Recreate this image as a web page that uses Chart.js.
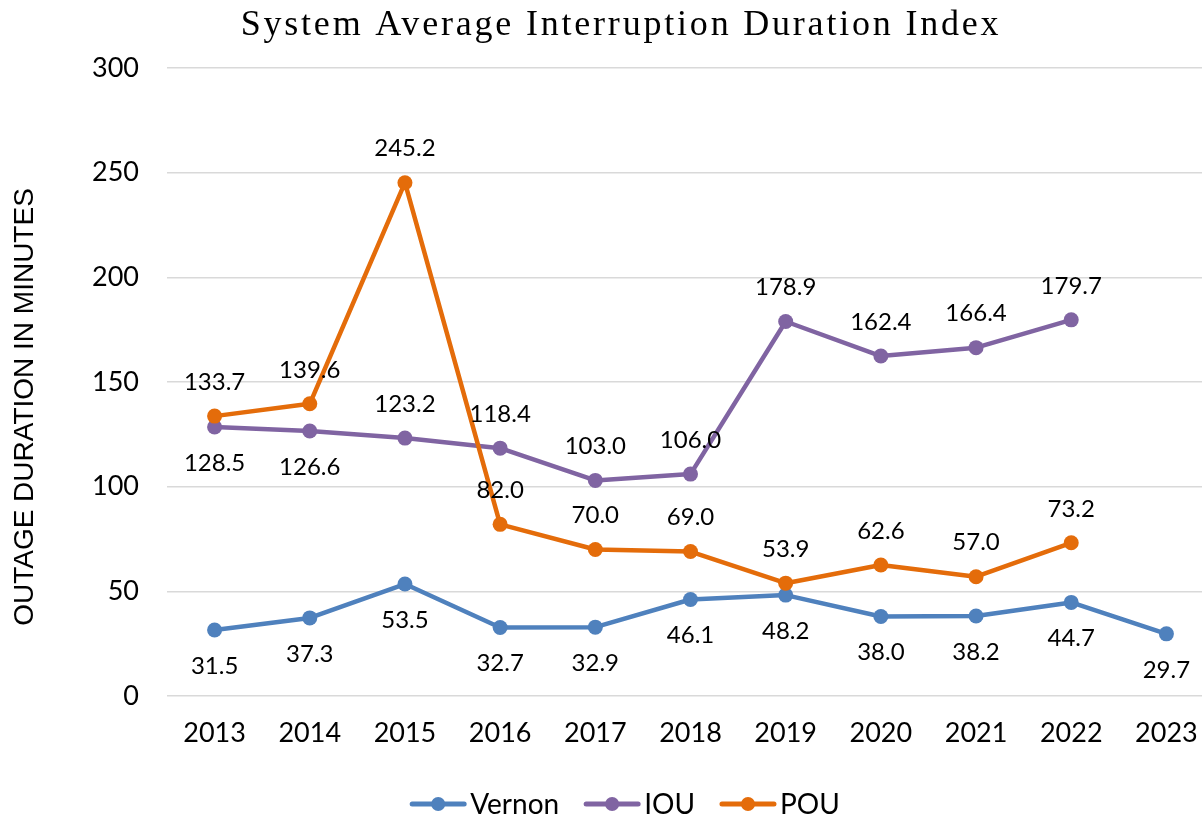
<!DOCTYPE html>
<html>
<head>
<meta charset="utf-8">
<script src="https://cdn.jsdelivr.net/npm/chart.js@4/dist/chart.umd.min.js"></script>
<style>
  html, body { margin: 0; padding: 0; background: #fff; overflow: hidden; }
  #wrap { width: 1240px; height: 817px; }
</style>
</head>
<body>
<div id="wrap"><canvas id="saidiChart" width="1240" height="817"></canvas></div>
<script>
// data
const years = ['2013', '2014', '2015', '2016', '2017', '2018', '2019', '2020', '2021', '2022', '2023'];
const vernon = [31.5, 37.3, 53.5, 32.7, 32.9, 46.1, 48.2, 38.0, 38.2, 44.7, 29.7];
const iou = [128.5, 126.6, 123.2, 118.4, 103.0, 106.0, 178.9, 162.4, 166.4, 179.7, null];
const pou = [133.7, 139.6, 245.2, 82.0, 70.0, 69.0, 53.9, 62.6, 57.0, 73.2, null];
const yTicks = [0, 50, 100, 150, 200, 250, 300];

// which side of the point each value label sits on
const vernonSide = ['below', 'below', 'below', 'below', 'below', 'below', 'below', 'below', 'below', 'below', 'below'];
const iouSide = ['below', 'below', 'above', 'above', 'above', 'above', 'above', 'above', 'above', 'above', 'above'];
const pouSide = ['above', 'above', 'above', 'above', 'above', 'above', 'above', 'above', 'above', 'above', 'above'];

const BLUE = '#4f81bd';
const PURPLE = '#8064a2';
const ORANGE = '#e46c0a';
const FONT = 'Lato';

const textPlugin = {
    id: 'textPlugin',
    afterDatasetsDraw(chart) {
        const ctx = chart.ctx;
        ctx.save();
        ctx.font = '24px ' + FONT;
        ctx.fillStyle = '#000';
        ctx.textAlign = 'center';
        ctx.textBaseline = 'middle';
        chart.data.datasets.forEach((ds, i) => {
            const meta = chart.getDatasetMeta(i);
            meta.data.forEach((pt, j) => {
                const v = ds.data[j];
                if (v === null || v === undefined) return;
                const dy = ds.labelSide[j] === 'above' ? -34 : 36;
                ctx.fillText(v.toFixed(1), pt.x, pt.y + dy);
            });
        });
        ctx.restore();
    },
    afterDraw(chart) {
        const ctx = chart.ctx;
        ctx.save();
        ctx.fillStyle = '#000';
        ctx.textBaseline = 'middle';

        // title
        ctx.font = '36px "Liberation Serif"';
        ctx.letterSpacing = '2.8px';
        ctx.textAlign = 'center';
        ctx.fillText('System Average Interruption Duration Index', 621, 26);
        ctx.letterSpacing = '0px';

        // legend: line + dot icon, then the name
        ctx.font = '28px ' + FONT;
        ctx.textAlign = 'left';
        const items = chart.data.datasets.map(ds => ({ text: ds.label, color: ds.borderColor, w: ctx.measureText(ds.label).width }));
        const iconW = 56, gapIcon = 4, gapItem = 25;
        const total = items.reduce((s, it) => s + iconW + gapIcon + it.w, 0) + gapItem * (items.length - 1);
        let x = 625 - total / 2;
        const ly = 804;
        items.forEach(it => {
            ctx.strokeStyle = it.color;
            ctx.fillStyle = it.color;
            ctx.lineWidth = 5;
            ctx.lineCap = 'round';
            ctx.beginPath();
            ctx.moveTo(x + 2, ly);
            ctx.lineTo(x + iconW - 2, ly);
            ctx.stroke();
            ctx.beginPath();
            ctx.arc(x + iconW / 2, ly, 7, 0, Math.PI * 2);
            ctx.fill();
            x += iconW + gapIcon;
            ctx.fillStyle = '#000';
            ctx.fillText(it.text, x, ly + 1);
            x += it.w + gapItem;
        });

        // y axis title
        ctx.translate(25, 407);
        ctx.rotate(-Math.PI / 2);
        ctx.font = '28px "Liberation Sans"';
        ctx.textAlign = 'center';
        ctx.fillText('OUTAGE DURATION IN MINUTES', 0, 0);
        ctx.restore();
    }
};

new Chart(document.getElementById('saidiChart'), {
    type: 'line',
    data: {
        labels: years,
        datasets: [
            { label: 'Vernon', data: vernon, labelSide: vernonSide, borderColor: BLUE, backgroundColor: BLUE, order: 2 },
            { label: 'IOU', data: iou, labelSide: iouSide, borderColor: PURPLE, backgroundColor: PURPLE, order: 1 },
            { label: 'POU', data: pou, labelSide: pouSide, borderColor: ORANGE, backgroundColor: ORANGE, order: 0 }
        ]
    },
    options: {
        responsive: false,
        animation: false,
        devicePixelRatio: 1,
        elements: {
            line: { borderWidth: 4.5, tension: 0, borderCapStyle: 'round', borderJoinStyle: 'round' },
            point: { radius: 7.5, hoverRadius: 7.5, borderWidth: 0 }
        },
        layout: { padding: { left: 0, right: 26, top: 68, bottom: 0 } },
        scales: {
            x: {
                offset: true,
                grid: { display: false, drawTicks: false },
                border: { display: false },
                ticks: { color: '#000', font: { family: FONT, size: 27 }, padding: 21, maxRotation: 0 },
                afterFit(s) { s.height = 121; }
            },
            y: {
                min: 0,
                max: 300,
                afterBuildTicks(s) { s.ticks = yTicks.map(v => ({ value: v })); },
                grid: { color: '#d9d9d9', lineWidth: 1.5, drawTicks: false },
                border: { display: false },
                ticks: { color: '#000', font: { family: FONT, size: 27 }, padding: 28 },
                afterFit(s) { s.width = 167; }
            }
        },
        plugins: {
            title: { display: false },
            tooltip: { enabled: false },
            legend: { display: false }
        }
    },
    plugins: [textPlugin]
});
</script>
</body>
</html>
